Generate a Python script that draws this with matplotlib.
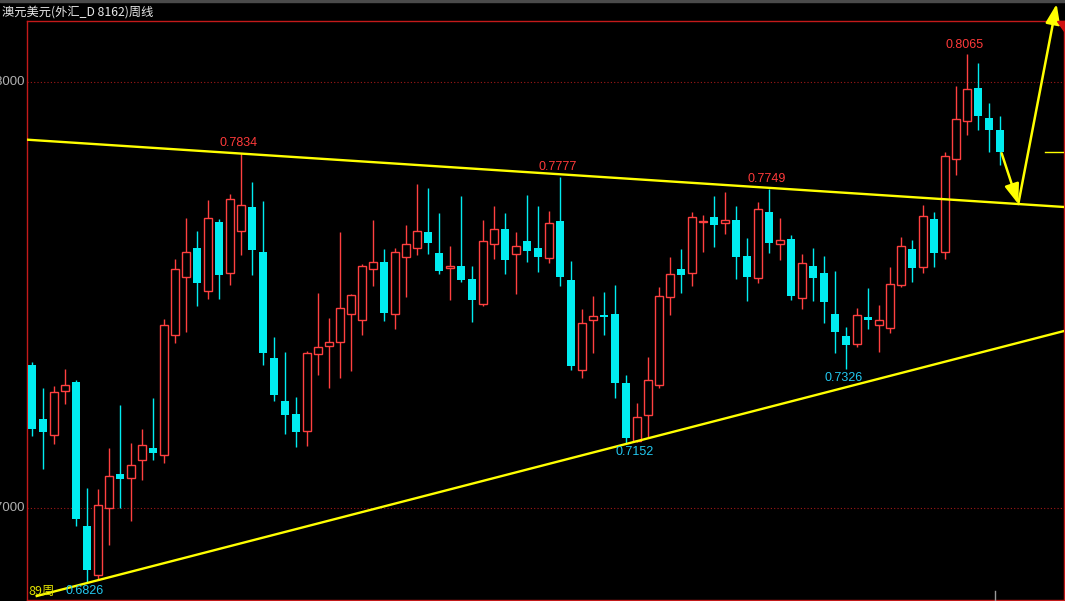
import matplotlib
matplotlib.use('Agg')
import matplotlib.pyplot as plt
from matplotlib.patches import Rectangle, Polygon
import numpy as np

# 澳元美元 周线 K线数据 (89周)
opens = [0.7336, 0.7209, 0.7172, 0.7275, 0.7296, 0.6958, 0.6842, 0.6999, 0.7080, 0.7070,
         0.7112, 0.7141, 0.7124, 0.7405, 0.7542, 0.7610, 0.7510, 0.7671, 0.7551, 0.7650,
         0.7707, 0.7601, 0.7352, 0.7251, 0.7221, 0.7180, 0.7361, 0.7380, 0.7389, 0.7455,
         0.7441, 0.7560, 0.7578, 0.7455, 0.7589, 0.7610, 0.7648, 0.7599, 0.7563, 0.7568,
         0.7538, 0.7478, 0.7619, 0.7655, 0.7596, 0.7627, 0.7610, 0.7586, 0.7674, 0.7535,
         0.7323, 0.7441, 0.7453, 0.7455, 0.7293, 0.7158, 0.7219, 0.7289, 0.7495, 0.7561,
         0.7551, 0.7671, 0.7683, 0.7668, 0.7676, 0.7592, 0.7539, 0.7695, 0.7619, 0.7632,
         0.7492, 0.7567, 0.7551, 0.7455, 0.7404, 0.7384, 0.7448, 0.7429, 0.7422, 0.7523,
         0.7608, 0.7565, 0.7678, 0.7600, 0.7819, 0.7908, 0.7986, 0.7916, 0.7887]
highs = [0.7343, 0.7282, 0.7286, 0.7326, 0.7301, 0.7047, 0.7045, 0.7141, 0.7242, 0.7152,
         0.7185, 0.7258, 0.7444, 0.7585, 0.7681, 0.7650, 0.7723, 0.7678, 0.7737, 0.7834,
         0.7765, 0.7721, 0.7401, 0.7366, 0.7261, 0.7369, 0.7505, 0.7446, 0.7648, 0.7502,
         0.7573, 0.7676, 0.7608, 0.7610, 0.7664, 0.7761, 0.7751, 0.7693, 0.7615, 0.7732,
         0.7568, 0.7676, 0.7709, 0.7693, 0.7648, 0.7735, 0.7709, 0.7697, 0.7777, 0.7580,
         0.7467, 0.7498, 0.7507, 0.7524, 0.7312, 0.7247, 0.7354, 0.7519, 0.7589, 0.7608,
         0.7695, 0.7688, 0.7732, 0.7742, 0.7709, 0.7634, 0.7718, 0.7749, 0.7681, 0.7641,
         0.7596, 0.7610, 0.7592, 0.7556, 0.7425, 0.7470, 0.7516, 0.7477, 0.7566, 0.7636,
         0.7629, 0.7711, 0.7695, 0.7836, 0.7991, 0.8065, 0.8045, 0.7951, 0.7920]
lows = [0.7170, 0.7092, 0.7151, 0.7243, 0.6958, 0.6826, 0.6831, 0.6914, 0.7001, 0.6970,
        0.7066, 0.7113, 0.7106, 0.7388, 0.7412, 0.7475, 0.7491, 0.7491, 0.7524, 0.7595,
        0.7548, 0.7336, 0.7252, 0.7174, 0.7142, 0.7146, 0.7313, 0.7282, 0.7304, 0.7322,
        0.7407, 0.7520, 0.7440, 0.7419, 0.7496, 0.7595, 0.7597, 0.7550, 0.7489, 0.7531,
        0.7437, 0.7475, 0.7585, 0.7550, 0.7503, 0.7578, 0.7555, 0.7574, 0.7520, 0.7325,
        0.7304, 0.7365, 0.7407, 0.7259, 0.7152, 0.7156, 0.7164, 0.7282, 0.7454, 0.7505,
        0.7522, 0.7602, 0.7613, 0.7644, 0.7538, 0.7487, 0.7529, 0.7599, 0.7583, 0.7489,
        0.7468, 0.7487, 0.7435, 0.7365, 0.7326, 0.7379, 0.7419, 0.7367, 0.7410, 0.7518,
        0.7531, 0.7552, 0.7566, 0.7584, 0.7782, 0.7876, 0.7888, 0.7836, 0.7804]
closes = [0.7185, 0.7179, 0.7272, 0.7288, 0.6973, 0.6855, 0.7006, 0.7074, 0.7069, 0.7100,
          0.7147, 0.7128, 0.7429, 0.7560, 0.7600, 0.7527, 0.7680, 0.7548, 0.7725, 0.7711,
          0.7606, 0.7365, 0.7266, 0.7219, 0.7179, 0.7363, 0.7377, 0.7389, 0.7469, 0.7499,
          0.7567, 0.7577, 0.7458, 0.7600, 0.7619, 0.7650, 0.7623, 0.7557, 0.7567, 0.7536,
          0.7489, 0.7627, 0.7654, 0.7583, 0.7614, 0.7604, 0.7590, 0.7668, 0.7543, 0.7334,
          0.7434, 0.7450, 0.7449, 0.7294, 0.7165, 0.7213, 0.7300, 0.7497, 0.7549, 0.7548,
          0.7682, 0.7674, 0.7665, 0.7676, 0.7590, 0.7543, 0.7701, 0.7623, 0.7628, 0.7498,
          0.7574, 0.7541, 0.7484, 0.7412, 0.7383, 0.7452, 0.7442, 0.7441, 0.7525, 0.7614,
          0.7564, 0.7685, 0.7599, 0.7826, 0.7912, 0.7983, 0.7921, 0.7888, 0.7836]

# 高低点标注 (周序号, 文字, 文字所在价位)
marks_red = [(19, '0.7834', 0.7857), (48, '0.7777', 0.7800), (67, '0.7749', 0.7772),
             (85, '0.8065', 0.8088)]
marks_cyan = [(74, '0.7326', 0.7305), (55, '0.7152', 0.7131), (5, '0.6826', 0.6804)]

# 趋势线 (周序号, 价格)
upper_line = [(-0.45, 0.78646), (93.82, 0.77066)]
lower_line = [(0.43, 0.67934), (93.82, 0.74155)]
# 预测箭头
arrow_pts = [(88.15, 0.78326), (89.66, 0.77136), (93.15, 0.81831)]

title = '澳元美元(外汇_D 8162)周线'

UP = '#ff4040'
DOWN = '#00ecf0'
FRAME = '#c41a1a'
YEL = '#ffff00'

fig = plt.figure(figsize=(10.65, 6.01), dpi=100, facecolor='black')
W, H = 1065.0, 601.0
ax = fig.add_axes([27 / W, 1 / H, (1064 - 27) / W, (600 - 21) / H])
ax.set_facecolor('black')

x = np.arange(len(opens))
o = np.array(opens); c = np.array(closes); h = np.array(highs); l = np.array(lows)
up = c >= o
top = np.maximum(o, c)
bot = np.minimum(o, c)

# 下跌 - 实心青色
ax.vlines(x[~up], l[~up], h[~up], color=DOWN, lw=1.0, zorder=2)
ax.bar(x[~up], np.maximum(top[~up] - bot[~up], 0.00025), bottom=bot[~up], width=0.76,
       color=DOWN, lw=0, zorder=3)
# 上涨 - 空心红色
ax.vlines(x[up], top[up], h[up], color=UP, lw=1.0, zorder=2)
ax.vlines(x[up], l[up], bot[up], color=UP, lw=1.0, zorder=2)
ax.bar(x[up], np.maximum(top[up] - bot[up], 0.00025), bottom=bot[up], width=0.66,
       facecolor='black', edgecolor=UP, lw=1.0, zorder=3)

# 网格
for lv in [0.8, 0.7]:
    ax.axhline(lv, color='#a01818', lw=0.8, ls=(0, (1, 2)), zorder=1)

# 趋势线
ax.plot([p[0] for p in upper_line], [p[1] for p in upper_line], color=YEL, lw=1.7, zorder=4)
ax.plot([p[0] for p in lower_line], [p[1] for p in lower_line], color=YEL, lw=1.7, zorder=4)
# 当前价
ax.plot([92.1, 93.8], [closes[-1], closes[-1]], color=YEL, lw=1.0, zorder=4)

# 箭头
ax.annotate('', xy=arrow_pts[1], xytext=arrow_pts[0], annotation_clip=False,
            arrowprops=dict(arrowstyle='-|>,head_length=0.6,head_width=0.22', color=YEL,
                            lw=1.8, mutation_scale=20, shrinkA=0, shrinkB=0))
ax.annotate('', xy=arrow_pts[2], xytext=arrow_pts[1], annotation_clip=False,
            arrowprops=dict(arrowstyle='-|>,head_length=0.6,head_width=0.22', color=YEL,
                            lw=1.8, mutation_scale=20, shrinkA=0, shrinkB=0))

# 标注
for i, txt, yy in marks_red:
    ax.text(i - 0.23, yy, txt, color='#ff3a3a', fontsize=9,
            family='Liberation Sans', ha='center', va='center', zorder=5)
for i, txt, yy in marks_cyan:
    ax.text(i - 0.23, yy, txt, color='#22c8f0', fontsize=9,
            family='Liberation Sans', ha='center', va='center', zorder=5)
ax.text(-0.3, 0.6804, '89周', color='#e0e000', fontsize=9,
        family=['Noto Sans CJK SC', 'DejaVu Sans'], ha='left', va='center', zorder=5)

ax.set_xlim(-0.4545, 93.818)
ax.set_ylim(0.6784, 0.81432)
ax.set_xticks([]); ax.set_yticks([])
for s in ax.spines.values():
    s.set_color(FRAME)
    s.set_linewidth(1.0)

# y轴刻度 (左侧被截断)
for lv in [0.8, 0.7]:
    ax.text(-0.6, lv, '%.4f' % lv, color='#b0b0b0', fontsize=9.5, family='Liberation Sans',
            ha='right', va='center', clip_on=False)

# 标题栏
fig.patches.append(Rectangle((0, 1 - 2 / H), 1, 2 / H, transform=fig.transFigure,
                             color='#4a4a4a'))
fig.text(2 / W, 1 - 12 / H, title, color='#e8e8e8', fontsize=8.8,
         family=['Noto Sans CJK SC', 'DejaVu Sans'], ha='left', va='center')
fig.patches.append(Polygon([(1057 / W, 1 - 21 / H), (1064 / W, 1 - 21 / H), (1064 / W, 1 - 31 / H)],
                           closed=True, transform=fig.transFigure, color='#d01010'))
fig.add_artist(plt.Line2D([995 / W, 995 / W], [1 / H, 10 / H], color='#9a9a9a', lw=1.0))

fig.savefig('out.png', dpi=100, facecolor='black')
